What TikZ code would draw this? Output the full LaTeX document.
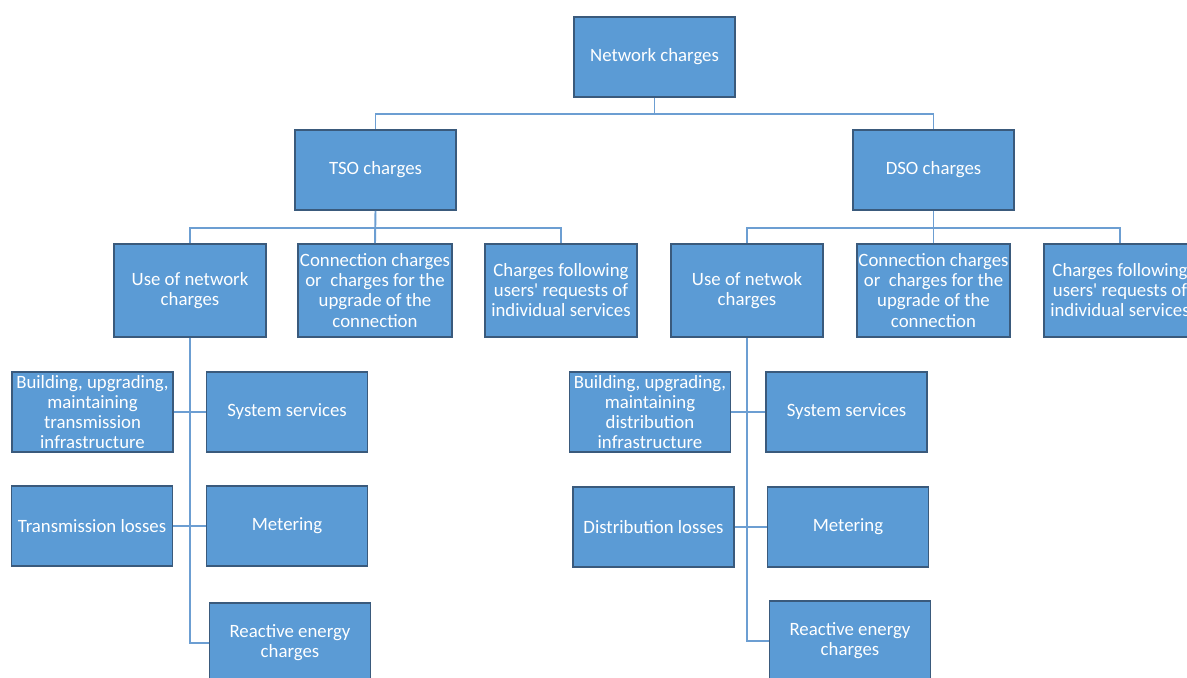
\documentclass[tikz,border=0pt]{standalone}
\usepackage{fontspec}
\setmainfont{Carlito}
\usepackage{tikz}
\usetikzlibrary{positioning}

\definecolor{boxfill}{HTML}{5B9BD5}
\definecolor{boxline}{HTML}{3A5A7C}
\definecolor{linkline}{HTML}{6C9ED2}

\tikzset{
  chargebox/.style={draw=boxline,line width=1.1pt,fill=boxfill,text=white,
    align=center,inner sep=1pt,minimum width=3.22cm,minimum height=1.6cm,
    font=\fontsize{10.7}{11.4}\selectfont},
  subbox/.style={chargebox,minimum width=3.04cm,minimum height=1.86cm},
  link/.style={draw=linkline,line width=1.1pt}
}

\begin{document}
\begin{tikzpicture}[x=0.02cm,y=-0.02cm]

  \useasboundingbox (0,0) rectangle (1187,677);
  \clip (0,0) rectangle (1187,677);

  % Top level
  \node [chargebox] (net) at (654.5,57) {Network charges};
  \node [chargebox] (tso) at (375.5,170) {TSO charges};
  \node [chargebox] (dso) at (933.5,170) {DSO charges};

  % TSO branch
  \node [subbox] (use1) at (190,290.5) {Use of network\\charges};
  \node [subbox] (con1) at (375,290.5) {Connection charges\\or~ charges for the\\upgrade of the\\connection};
  \node [subbox] (fol1) at (561,290.5) {Charges following\\users\textquotesingle{} requests of\\individual services};

  % DSO branch
  \node [subbox] (use2) at (747,290.5) {Use of netwok\\charges};
  \node [subbox] (con2) at (933.5,290.5) {Connection charges\\or~ charges for the\\upgrade of the\\connection};
  \node [subbox] (fol2) at (1120,290.5) {Charges following\\users\textquotesingle{} requests of\\individual services};

  % TSO use of network
  \node [chargebox] (bld1) at (92.5,412) {Building, upgrading,\\maintaining\\transmission\\infrastructure};
  \node [chargebox] (sys1) at (287,412) {System services};
  \node [chargebox] (los1) at (92,526) {Transmission losses};
  \node [chargebox] (met1) at (287,526) {Metering};
  \node [chargebox] (rea1) at (290,643) {Reactive energy\\charges};

  % DSO use of network
  \node [chargebox] (bld2) at (650,412) {Building, upgrading,\\maintaining\\distribution\\infrastructure};
  \node [chargebox] (sys2) at (846.5,412) {System services};
  \node [chargebox] (los2) at (653.5,527) {Distribution losses};
  \node [chargebox] (met2) at (848,527) {Metering};
  \node [chargebox] (rea2) at (850,641) {Reactive energy\\charges};

  % Connectors
  \coordinate (top) at (654.5,114);
  \draw [link] (net.south) -- (top) -| (tso.north);
  \draw [link] (top) -| (dso.north);

  \coordinate (tsobus) at (375.5,228);
  \draw [link] (tso.south) -- (con1.north);
  \draw [link] (tsobus) -| (use1.north);
  \draw [link] (tsobus) -| (fol1.north);

  \coordinate (dsobus) at (933.5,228);
  \draw [link] (dso.south) -- (con2.north);
  \draw [link] (dsobus) -| (use2.north);
  \draw [link] (dsobus) -| (fol2.north);

  \draw [link] (use1.south) |- (rea1.west);
  \draw [link] (bld1.east) -- (sys1.west);
  \draw [link] (los1.east) -- (met1.west);

  \draw [link] (use2.south) |- (rea2.west);
  \draw [link] (bld2.east) -- (sys2.west);
  \draw [link] (los2.east) -- (met2.west);

\end{tikzpicture}
\end{document}
